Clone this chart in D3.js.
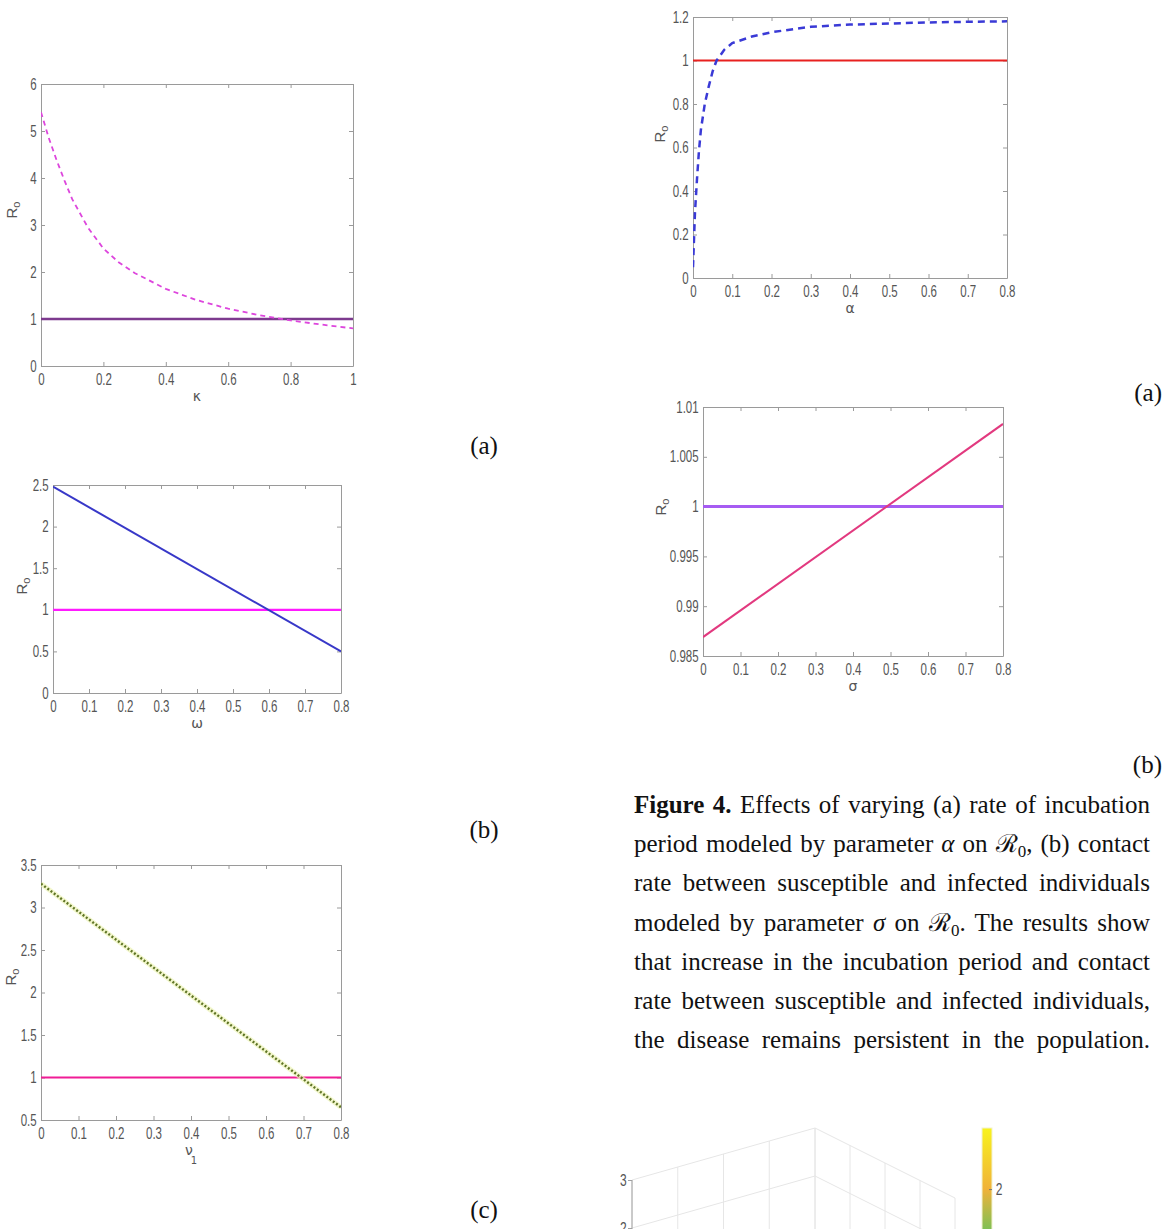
<!DOCTYPE html>
<html>
<head>
<meta charset="utf-8">
<script src="https://cdn.jsdelivr.net/npm/d3@7"></script>
<style>
  body { margin: 0; background: #fff; }
  svg { display: block; }
</style>
</head>
<body>
<script>
// ---- values ----
var kappa   = [0, 0.025, 0.05, 0.075, 0.1, 0.15, 0.2, 0.25, 0.3, 0.4, 0.5, 0.6, 0.7, 0.8, 0.9, 1];
var r0Kappa = [5.4, 4.85, 4.38, 3.95, 3.55, 2.95, 2.5, 2.2, 1.98, 1.64, 1.4, 1.22, 1.08, 0.97, 0.88, 0.8];

var omega   = [0, 0.8];
var r0Omega = [2.48, 0.5];

var nu1     = [0, 0.8];
var r0Nu1   = [3.28, 0.65];

var alpha   = [0, 0.002, 0.005, 0.01, 0.015, 0.02, 0.03, 0.04, 0.05, 0.06, 0.08, 0.1, 0.15, 0.2, 0.3, 0.4, 0.5, 0.6, 0.7, 0.8];
var r0Alpha = [0.05, 0.15, 0.3, 0.45, 0.58, 0.68, 0.8, 0.88, 0.95, 1.0, 1.05, 1.08, 1.11, 1.13, 1.155, 1.165, 1.17, 1.175, 1.178, 1.18];

var sigma   = [0, 0.8];
var r0Sigma = [0.9869, 1.0083];

var threshold = 1;

// tick labels
var xTicks10 = [0, 0.2, 0.4, 0.6, 0.8, 1];
var xTicks08 = [0, 0.1, 0.2, 0.3, 0.4, 0.5, 0.6, 0.7, 0.8];
var yTicksKappa = [0, 1, 2, 3, 4, 5, 6];
var yTicksOmega = [0, 0.5, 1, 1.5, 2, 2.5];
var yTicksNu1   = [0.5, 1, 1.5, 2, 2.5, 3, 3.5];
var yTicksAlpha = [0, 0.2, 0.4, 0.6, 0.8, 1, 1.2];
var yTicksSigma = [0.985, 0.99, 0.995, 1, 1.005, 1.01];

// 3-D panel (only its top is visible)
var zTicks = [2, 3];
var wallTicks = [0, 0.25, 0.5, 0.75, 1];
var barTicks = [2];

var W = 1169, H = 1229;
var svg = d3.select("body").append("svg").attr("width", W).attr("height", H);
var defs = svg.append("defs");

var fmt = function(d) { return String(+d.toFixed(3)); };
var tickFont = "'Liberation Sans', Arial, sans-serif";

function panel(p, idx) {
  var x = d3.scaleLinear().domain(p.xDomain).range([p.left, p.right]);
  var y = d3.scaleLinear().domain(p.yDomain).range([p.bottom, p.top]);
  var g = svg.append("g");

  defs.append("clipPath").attr("id", "clip" + idx)
    .append("rect").attr("x", p.left).attr("y", p.top)
    .attr("width", p.right - p.left).attr("height", p.bottom - p.top);

  var axes = [
    [d3.axisBottom(x).tickValues(p.xTicks).tickFormat(fmt), "translate(0," + p.bottom + ")"],
    [d3.axisTop(x).tickValues(p.xTicks).tickFormat(""), "translate(0," + p.top + ")"],
    [d3.axisLeft(y).tickValues(p.yTicks).tickFormat(fmt), "translate(" + p.left + ",0)"],
    [d3.axisRight(y).tickValues(p.yTicks).tickFormat(""), "translate(" + p.right + ",0)"]
  ];
  axes.forEach(function(a, i) {
    var ag = g.append("g").attr("transform", a[1])
      .call(a[0].tickSizeInner(-4).tickSizeOuter(0).tickPadding(i == 0 ? 8 : 6));
    ag.attr("color", "#9a9a9a").attr("font-family", tickFont).attr("font-size", 16);
    ag.selectAll("text").attr("fill", "#555").attr("transform", "scale(0.72,1)");
  });

  var line = d3.line().x(function(d) { return x(d[0]); }).y(function(d) { return y(d[1]); });
  var plot = g.append("g").attr("clip-path", "url(#clip" + idx + ")");

  // threshold R0 = 1
  plot.append("path")
    .datum([[p.xDomain[0], threshold], [p.xDomain[1], threshold]])
    .attr("d", line).attr("fill", "none")
    .attr("stroke", p.hColor).attr("stroke-width", p.hWidth);

  if (p.halo) {
    plot.append("path").datum(d3.zip(p.xs, p.ys)).attr("d", line)
      .attr("fill", "none").attr("stroke", p.halo).attr("stroke-width", 5).attr("opacity", 0.7);
  }
  plot.append("path").datum(d3.zip(p.xs, p.ys)).attr("d", line)
    .attr("fill", "none").attr("stroke", p.color).attr("stroke-width", p.width)
    .attr("stroke-dasharray", p.dash || null);

  // axis labels
  var yl = g.append("text")
    .attr("transform", "translate(" + p.yLab[0] + "," + p.yLab[1] + ") rotate(-90)")
    .attr("text-anchor", "middle").attr("font-family", tickFont)
    .attr("font-size", 15).attr("fill", "#555");
  yl.append("tspan").text("R");
  yl.append("tspan").attr("font-size", 11).attr("dy", 3).text("o");

  var cx = (p.left + p.right) / 2;
  var xl = g.append("text").attr("x", cx).attr("y", p.bottom + 35)
    .attr("text-anchor", "middle").attr("font-family", "'DejaVu Sans', sans-serif")
    .attr("font-size", 14).attr("fill", "#555");
  xl.append("tspan").text(p.xLabel);
  if (p.xSub) xl.append("tspan").attr("font-size", 10).attr("dy", 9).attr("dx", -2).text(p.xSub);
}

var panels = [
  { left: 41, right: 353, top: 84, bottom: 366, xDomain: [0, 1], xTicks: xTicks10,
    yDomain: [0, 6], yTicks: yTicksKappa, xs: kappa, ys: r0Kappa,
    color: "#dd46dd", width: 1.8, dash: "5,4", hColor: "#7d3a8e", hWidth: 2.5,
    xLabel: "κ", yLab: [17, 210] },
  { left: 53, right: 341, top: 485, bottom: 693, xDomain: [0, 0.8], xTicks: xTicks08,
    yDomain: [0, 2.5], yTicks: yTicksOmega, xs: omega, ys: r0Omega,
    color: "#3838c8", width: 2, hColor: "#ff1aff", hWidth: 2.2,
    xLabel: "ω", yLab: [27, 586] },
  { left: 41, right: 341, top: 865, bottom: 1120, xDomain: [0, 0.8], xTicks: xTicks08,
    yDomain: [0.5, 3.5], yTicks: yTicksNu1, xs: nu1, ys: r0Nu1,
    color: "#5f7526", width: 2.4, dash: "2,2", halo: "#eef3b8", hColor: "#f01c96", hWidth: 2.2,
    xLabel: "ν", xSub: "1", yLab: [16, 977] },
  { left: 693, right: 1007, top: 17, bottom: 278, xDomain: [0, 0.8], xTicks: xTicks08,
    yDomain: [0, 1.2], yTicks: yTicksAlpha, xs: alpha, ys: r0Alpha,
    color: "#3a3ad6", width: 2.5, dash: "7,5", hColor: "#e8211f", hWidth: 2.2,
    xLabel: "α", yLab: [665, 134] },
  { left: 703, right: 1003, top: 407, bottom: 656, xDomain: [0, 0.8], xTicks: xTicks08,
    yDomain: [0.985, 1.01], yTicks: yTicksSigma, xs: sigma, ys: r0Sigma,
    color: "#e2397f", width: 2, hColor: "#a65cf2", hWidth: 3,
    xLabel: "σ", yLab: [666, 507] }
];
panels.forEach(panel);

// sub-figure labels
var serif = "'Liberation Serif', 'Times New Roman', serif";
[["(a)", 484, 454, "middle"], ["(b)", 484, 838, "middle"], ["(c)", 484, 1218, "middle"],
 ["(a)", 1162, 401, "end"], ["(b)", 1162, 773, "end"]].forEach(function(l) {
  svg.append("text").attr("x", l[1]).attr("y", l[2]).attr("text-anchor", l[3])
    .attr("font-family", serif).attr("font-size", 25).attr("fill", "#111").text(l[0]);
});

// caption, justified between capLeft and capRight
var capLeft = 634, capRight = 1150;
var capLines = [
  [["Figure 4.", "b"], [" Effects of varying (a) rate of incubation"]],
  [["period modeled by parameter "], ["α", "i"], [" on "], ["ℛ"], ["0", "s"], [", (b) contact"]],
  [["rate between susceptible and infected individuals"]],
  [["modeled by parameter "], ["σ", "i"], [" on "], ["ℛ"], ["0", "s"], [". The results show"]],
  [["that increase in the incubation period and contact"]],
  [["rate between susceptible and infected individuals,"]],
  [["the disease remains persistent in the population."]]
];
capLines.forEach(function(segs, i) {
  var t = svg.append("text").attr("x", capLeft).attr("y", 813 + i * 39.2)
    .attr("font-family", serif).attr("font-size", 25).attr("fill", "#111");
  var shifted = false;
  segs.forEach(function(s) {
    var ts = t.append("tspan").text(s[0]);
    if (s[1] == "b") ts.attr("font-weight", "bold");
    if (s[1] == "i") ts.attr("font-style", "italic");
    if (s[1] == "s") { ts.attr("font-size", 17).attr("dy", 5); shifted = true; }
    else if (shifted) { ts.attr("dy", -5); shifted = false; }
  });
  var w = t.node().getComputedTextLength();
  var n = (t.text().match(/ /g) || []).length;
  if (n) t.attr("word-spacing", (capRight - capLeft - w) / n);
});

// ---- 3-D surface frame (top part only) ----
var zY = d3.scaleLinear().domain([2, 3]).range([1228, 1180]);
var leftX = d3.scaleLinear().domain([0, 1]).range([632, 815]);
var leftRise = d3.scaleLinear().domain([0, 1]).range([0, -52]);
var rightX = d3.scaleLinear().domain([0, 1]).range([815, 955]);
var rightRise = d3.scaleLinear().domain([0, 1]).range([-52, 18]);
var g3 = svg.append("g").attr("stroke", "#e6e6e6").attr("fill", "none");
var zLow = 0;

wallTicks.forEach(function(a) {
  g3.append("line").attr("x1", leftX(a)).attr("x2", leftX(a))
    .attr("y1", zY(3) + leftRise(a)).attr("y2", zY(zLow) + leftRise(a));
  g3.append("line").attr("x1", rightX(a)).attr("x2", rightX(a))
    .attr("y1", zY(3) + rightRise(a)).attr("y2", zY(zLow) + rightRise(a));
});
zTicks.forEach(function(z) {
  g3.append("line").attr("x1", leftX(0)).attr("x2", leftX(1))
    .attr("y1", zY(z) + leftRise(0)).attr("y2", zY(z) + leftRise(1));
  g3.append("line").attr("x1", rightX(0)).attr("x2", rightX(1))
    .attr("y1", zY(z) + rightRise(0)).attr("y2", zY(z) + rightRise(1));
});

var zAxis = svg.append("g").attr("transform", "translate(" + leftX(0) + ",0)")
  .call(d3.axisLeft(zY).tickValues(zTicks).tickFormat(fmt).tickSizeInner(4).tickSizeOuter(0).tickPadding(3));
zAxis.select(".domain").remove();
zAxis.append("line").attr("y1", zY(3)).attr("y2", H).attr("stroke", "#a0a0a0");
zAxis.attr("color", "#a0a0a0").attr("font-family", tickFont).attr("font-size", 16);
zAxis.selectAll("text").attr("fill", "#555").attr("transform", "scale(0.75,1)");

// colour bar
var barY = d3.scaleLinear().domain([1.5, 2.6]).range([1240, 1128]);
var barColor = d3.scaleLinear().domain([1.5, 2, 2.6]).range(["#62c35c", "#f0b23a", "#f8f31c"]);
var grad = defs.append("linearGradient").attr("id", "bar").attr("x1", 0).attr("x2", 0).attr("y1", 1).attr("y2", 0);
[1.5, 1.75, 2, 2.3, 2.6].forEach(function(v) {
  grad.append("stop").attr("offset", (v - 1.5) / 1.1).attr("stop-color", barColor(v));
});
svg.append("rect").attr("x", 982).attr("y", barY(2.6)).attr("width", 10)
  .attr("height", barY(1.5) - barY(2.6)).attr("fill", "url(#bar)")
  .attr("stroke", "#f2f2d0").attr("stroke-width", 1);
var bAxis = svg.append("g").attr("transform", "translate(992,0)")
  .call(d3.axisRight(barY).tickValues(barTicks).tickFormat(fmt).tickSizeInner(-3).tickSizeOuter(0).tickPadding(5));
bAxis.select(".domain").remove();
bAxis.attr("color", "#777").attr("font-family", tickFont).attr("font-size", 16);
bAxis.selectAll("text").attr("fill", "#555").attr("transform", "scale(0.75,1)");
</script>
</body>
</html>
